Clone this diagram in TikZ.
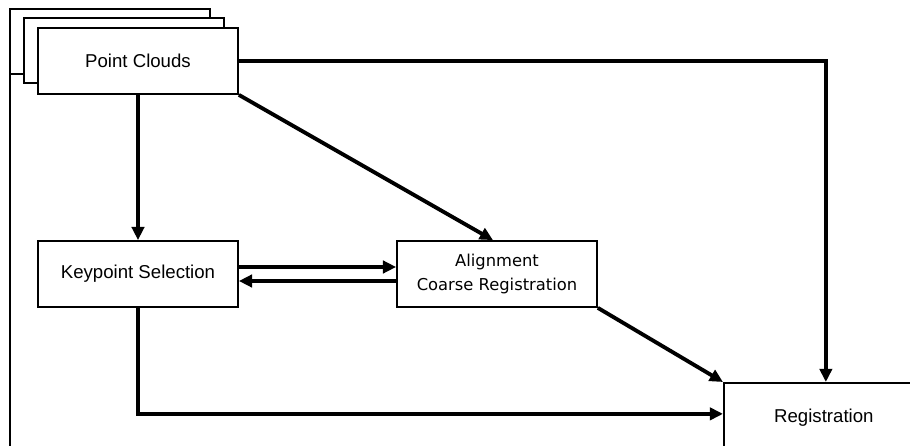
\documentclass[tikz,border=0pt]{standalone}
\usepackage{fontspec}
\setmainfont{Liberation Sans}
\newfontfamily\alignfont{DejaVu Sans}
\usetikzlibrary{arrows.meta}

\begin{document}
\begin{tikzpicture}[x=0.02cm, y=-0.02cm,
    box/.style={draw, line width=1pt, fill=white, minimum width=4cm,
        minimum height=1.32cm, font=\fontsize{10.6}{12}\selectfont},
    flow/.style={line width=2.2pt, -{Triangle[length=7.5pt,width=7pt]}}]
    \useasboundingbox (0,0) rectangle (910,446);
    % Sheets behind the point clouds
    \draw[line width=1pt] (10,73) -- (10,446);
    \foreach \x/\y in {10/9, 24/18} {
        \draw[line width=1pt, fill=white] (\x,\y) rectangle +(200,65);
    }
    % Boxes
    \node[box] (clouds) at (138,61) {Point Clouds};
    \node[box, align=center, font=\alignfont\fontsize{9.3}{13.5}\selectfont]
        (align) at (497,274) {Alignment\\Coarse Registration};
    \node[box] (keypoint) at (138,274) {Keypoint Selection};
    \node[box, anchor=north west, minimum height=1.4cm] (reg) at (723,382) {Registration};
    % Arrows
    \draw[flow] (clouds.east) -| ([xshift=0.04cm]reg.north);
    \draw[flow] (clouds) -- (keypoint);
    \draw[flow] (clouds.south east) -- ([xshift=-0.08cm]align.north);
    \draw[flow] ([yshift=0.14cm]keypoint.east) -- ([yshift=0.14cm]align.west);
    \draw[flow] ([yshift=-0.14cm]align.west) -- ([yshift=-0.14cm]keypoint.east);
    \draw[flow] (align.south east) -- (reg.north west);
    \draw[flow] (keypoint.south) |- ([yshift=0.08cm]reg.west);
\end{tikzpicture}
\end{document}
